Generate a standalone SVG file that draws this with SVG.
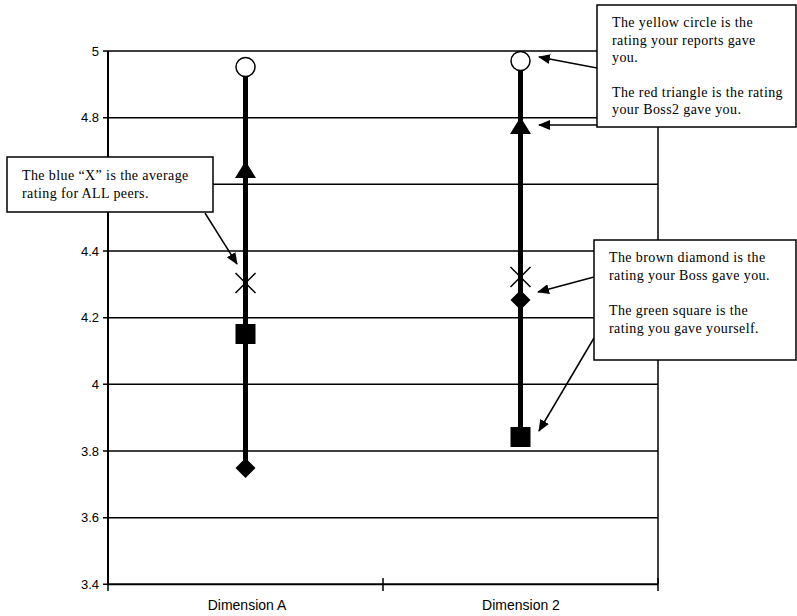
<svg xmlns="http://www.w3.org/2000/svg" width="797" height="616" viewBox="0 0 797 616">
<style>
.grid{stroke:#000;stroke-width:1.5;fill:none}
.axis{stroke:#000;stroke-width:2;fill:none}
.tick{font-family:"Liberation Sans",Arial,sans-serif;font-size:13px;fill:#000;text-anchor:end}
.cat{font-family:"Liberation Sans",Arial,sans-serif;font-size:14px;fill:#000;text-anchor:middle}
.stem{stroke:#000;stroke-width:5}
.box{fill:#fff;stroke:#000;stroke-width:1.5}
.note{font-family:"Liberation Serif","Times New Roman",serif;font-size:14px;letter-spacing:0.4px;fill:#000}
.conn{stroke:#000;stroke-width:1.5;fill:none}
</style>
<defs>
<marker id="ah" viewBox="0 0 12 10" refX="11" refY="5" markerWidth="12" markerHeight="10" markerUnits="userSpaceOnUse" orient="auto">
<path d="M0,0 L12,5 L0,10 Z" fill="#000"/>
</marker>
</defs>
<rect width="797" height="616" fill="#fff"/>
<g id="chart">
<path class="grid" d="M108,51H658M108,117.7H658M108,184.3H658M108,251H658M108,317.7H658M108,384.3H658M108,451H658M108,517.7H658"/>
<path class="grid" d="M658,51V584"/>
<path class="axis" d="M108,51V584.3M108,584.3H658"/>
<path class="grid" d="M103,51H108M103,117.7H108M103,251H108M103,317.7H108M103,384.3H108M103,451H108M103,517.7H108M103,584.3H108"/>
<path class="grid" d="M108,584V591M383,578V591M658,578V591"/>
<text class="tick" x="99" y="55.5">5</text>
<text class="tick" x="99" y="122">4.8</text>
<text class="tick" x="99" y="255.5">4.4</text>
<text class="tick" x="99" y="322">4.2</text>
<text class="tick" x="99" y="389">4</text>
<text class="tick" x="99" y="455.5">3.8</text>
<text class="tick" x="99" y="522">3.6</text>
<text class="tick" x="99" y="589">3.4</text>
<text class="cat" x="247" y="610">Dimension A</text>
<text class="cat" x="521" y="610">Dimension 2</text>
</g>
<g id="series-dimA">
<line class="stem" x1="245.5" y1="67" x2="245.5" y2="468"/>
<circle cx="245.5" cy="67" r="9.5" fill="#fff" stroke="#000" stroke-width="1.5"/>
<polygon points="245.5,161 256,178 235,178" fill="#000"/>
<path d="M235.5,273L255.5,293M255.5,273L235.5,293" stroke="#000" stroke-width="1.5"/>
<rect x="235.5" y="324" width="20" height="20" fill="#000"/>
<polygon points="245.5,458 255.5,468 245.5,478 235.5,468" fill="#000"/>
</g>
<g id="series-dim2">
<line class="stem" x1="520.5" y1="61" x2="520.5" y2="437"/>
<circle cx="520.5" cy="61" r="9.5" fill="#fff" stroke="#000" stroke-width="1.5"/>
<polygon points="520.5,117 531,134 510,134" fill="#000"/>
<path d="M510.5,267L530.5,287M530.5,267L510.5,287" stroke="#000" stroke-width="1.5"/>
<polygon points="520.5,290 530.5,300 520.5,310 510.5,300" fill="#000"/>
<rect x="510.5" y="427" width="20" height="20" fill="#000"/>
</g>
<g id="connectors">
<line class="conn" x1="205" y1="213" x2="237" y2="264" marker-end="url(#ah)"/>
<line class="conn" x1="597" y1="68" x2="539" y2="57" marker-end="url(#ah)"/>
<line class="conn" x1="597" y1="125" x2="539" y2="125" marker-end="url(#ah)"/>
<line class="conn" x1="594" y1="277" x2="538" y2="292" marker-end="url(#ah)"/>
<line class="conn" x1="594" y1="338" x2="539" y2="431" marker-end="url(#ah)"/>
</g>
<g id="note-peers">
<rect class="box" x="7" y="157" width="206" height="55"/>
<text class="note" x="22" y="180">The blue “X” is the average</text>
<text class="note" x="22" y="198">rating for ALL peers.</text>
</g>
<g id="note-reports-boss2">
<rect class="box" x="597" y="5" width="199" height="122"/>
<text class="note" x="612" y="27">The yellow circle is the</text>
<text class="note" x="612" y="45">rating your reports gave</text>
<text class="note" x="612" y="62">you.</text>
<text class="note" x="612" y="97">The red triangle is the rating</text>
<text class="note" x="612" y="114">your Boss2 gave you.</text>
</g>
<g id="note-boss-self">
<rect class="box" x="594" y="240" width="202" height="120"/>
<text class="note" x="609" y="262">The brown diamond is the</text>
<text class="note" x="609" y="280">rating your Boss gave you.</text>
<text class="note" x="609" y="315">The green square is the</text>
<text class="note" x="609" y="333">rating you gave yourself.</text>
</g>
</svg>
